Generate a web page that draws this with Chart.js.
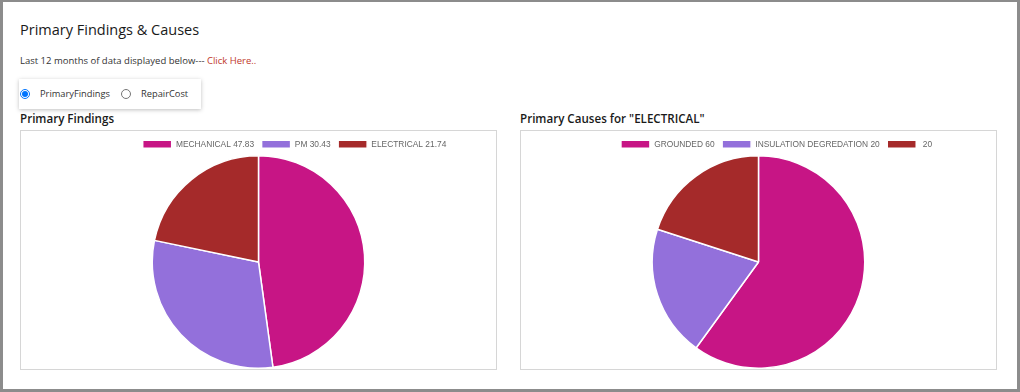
<!DOCTYPE html>
<html>
<head>
<meta charset="utf-8">
<script src="https://cdn.jsdelivr.net/npm/chart.js@4"></script>
<style>
  html, body { margin: 0; padding: 0; background: #fff; }
  #page { position: relative; width: 1020px; height: 392px; box-sizing: border-box; border: 3px solid #8c8c8c; border-top-width: 2px; overflow: hidden; font-family: "Open Sans", "Noto Sans", sans-serif; color: #222; }
  #title { position: absolute; left: 17px; top: 18px; font-size: 14.5px; font-weight: 500; color: #1a1a1a; white-space: nowrap; }
  #sub { position: absolute; left: 17px; top: 52px; font-size: 9.5px; color: #333; white-space: nowrap; }
  #sub a { color: #c0392b; text-decoration: none; }
  #radios { position: absolute; left: 16px; top: 77px; width: 182px; height: 30px; background: #fff; box-shadow: 0 1px 4px rgba(0,0,0,0.25); font-size: 9.3px; color: #333; }
  .r { position: absolute; top: 8px; white-space: nowrap; display: flex; align-items: center; }
  .r input { margin: 0 10px 0 0; width: 10px; height: 10px; }
  .sect { position: absolute; top: 109px; font-size: 11.6px; font-weight: 600; color: #1a1a1a; white-space: nowrap; }
  .box { position: absolute; top: 128px; width: 477px; height: 240px; box-sizing: border-box; border: 1px solid #d6d6d6; }
  .box canvas { display: block; }
</style>
</head>
<body>
<div id="page">
  <div id="title">Primary Findings &amp; Causes</div>
  <div id="sub">Last 12 months of data displayed below--- <a href="#">Click Here..</a></div>
  <div id="radios">
    <label class="r" style="left:1px"><input type="radio" name="m" checked>PrimaryFindings</label>
    <label class="r" style="left:102px"><input type="radio" name="m">RepairCost</label>
  </div>
  <div class="sect" style="left:17px">Primary Findings</div>
  <div class="sect" style="left:517px">Primary Causes for "ELECTRICAL"</div>
  <div class="box" style="left:17px"><canvas id="c1" width="475" height="238"></canvas></div>
  <div class="box" style="left:517px"><canvas id="c2" width="475" height="238"></canvas></div>
</div>
<script>
const findingsCategories = ["MECHANICAL", "PM", "ELECTRICAL"];
const findingsValues = [47.83, 30.43, 21.74];
const causesCategories = ["GROUNDED", "INSULATION DEGREDATION", ""];
const causesValues = [60, 20, 20];
const sliceColors = ["#C71585", "#9370DB", "#A52A2A"];

const legendTweak = {
  id: 'legendTweak',
  beforeInit(chart) {
    const lg = chart.legend;
    if (!lg) return;
    const origFit = lg.fit.bind(lg);
    lg.fit = function () { origFit(); this.height = 24; };
  },
  afterLayout(chart, args, opts) {
    const lg = chart.legend;
    const dx = opts.shift || 0;
    lg.left += dx; lg.right += dx;
    lg.top += 1.5; lg.bottom += 1.5;
  }
};

function makePie(id, cats, vals, shift) {
  const labels = cats.map((c, i) => c + ' ' + vals[i]);
  return new Chart(document.getElementById(id), {
    type: 'pie',
    data: {
      labels: labels,
      datasets: [{
        data: vals,
        backgroundColor: sliceColors,
        borderColor: '#ffffff',
        borderWidth: 1.5,
        hoverOffset: 0
      }]
    },
    options: {
      responsive: false,
      maintainAspectRatio: false,
      animation: false,
      layout: { padding: 0 },
      plugins: {
        legendTweak: { shift: shift },
        tooltip: { enabled: false },
        legend: {
          position: 'top',
          labels: {
            boxWidth: 29,
            boxHeight: 8,
            padding: 7.5,
            color: '#666',
            font: { family: 'Arial, "Liberation Sans", sans-serif', size: 8.4 }
          }
        }
      }
    },
    plugins: [legendTweak]
  });
}

makePie('c1', findingsCategories, findingsValues, 36);
makePie('c2', causesCategories, causesValues, 18);
</script>
</body>
</html>
